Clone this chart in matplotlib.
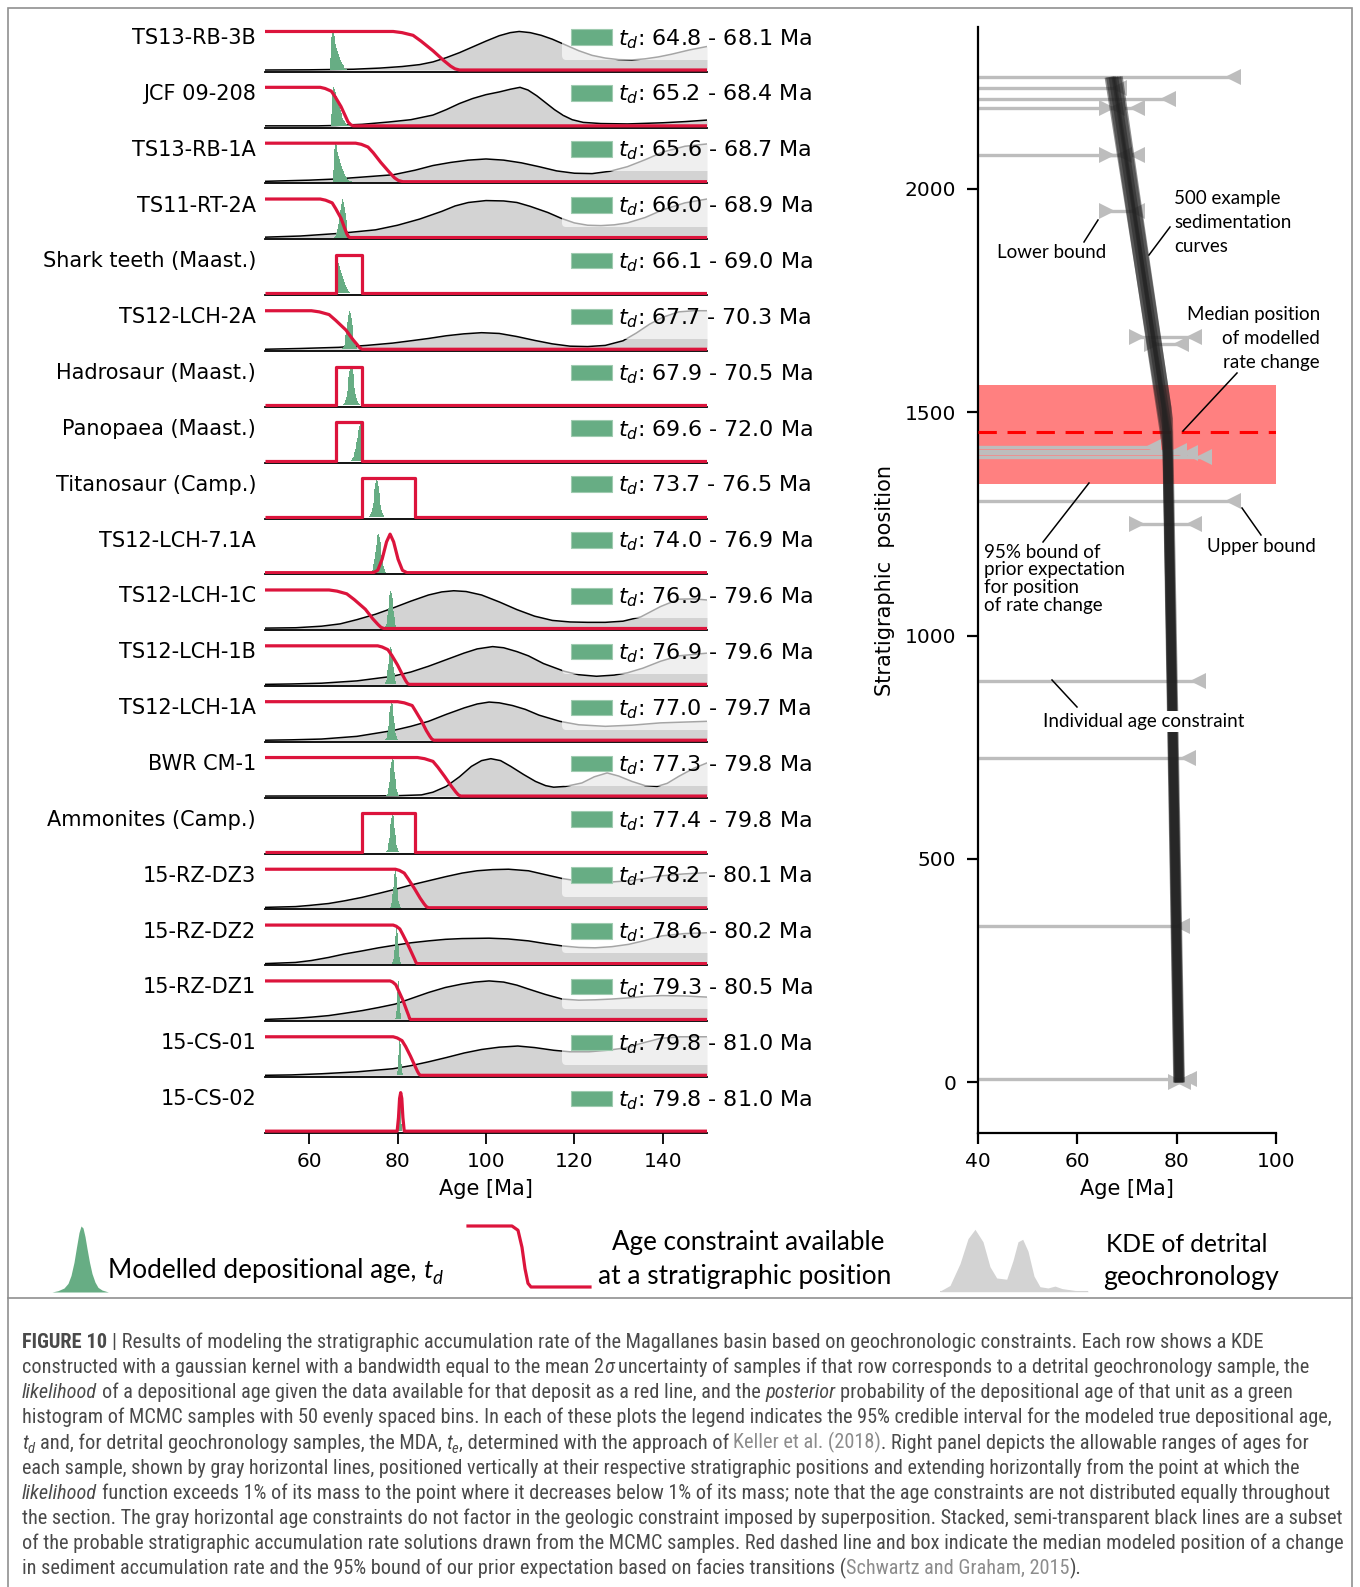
import numpy as np
import matplotlib
matplotlib.use("Agg")
import matplotlib.pyplot as plt
from matplotlib.patches import Patch, Rectangle
from matplotlib import font_manager

W, H = 1360, 1587

# ---------------------------------------------------------------- samples
sample_names = ["TS13-RB-3B", "JCF 09-208", "TS13-RB-1A", "TS11-RT-2A",
                "Shark teeth (Maast.)", "TS12-LCH-2A", "Hadrosaur (Maast.)",
                "Panopaea (Maast.)", "Titanosaur (Camp.)", "TS12-LCH-7.1A",
                "TS12-LCH-1C", "TS12-LCH-1B", "TS12-LCH-1A", "BWR CM-1",
                "Ammonites (Camp.)", "15-RZ-DZ3", "15-RZ-DZ2", "15-RZ-DZ1",
                "15-CS-01", "15-CS-02"]
sample_kind = ["detrital", "detrital", "detrital", "detrital", "box",
               "detrital", "box", "box", "box", "gauss",
               "detrital", "detrital", "detrital", "detrital", "box",
               "detrital", "detrital", "detrital", "detrital", "gauss"]

# 95% credible interval of the modelled depositional age
td_low = [64.8, 65.2, 65.6, 66.0, 66.1, 67.7, 67.9, 69.6, 73.7, 74.0,
          76.9, 76.9, 77.0, 77.3, 77.4, 78.2, 78.6, 79.3, 79.8, 79.8]
td_high = [68.1, 68.4, 68.7, 68.9, 69.0, 70.3, 70.5, 72.0, 76.5, 76.9,
           79.6, 79.6, 79.7, 79.8, 79.8, 80.1, 80.2, 80.5, 81.0, 81.0]

# extent of the posterior histograms (MCMC samples)
post_start = [64.7, 65.0, 65.3, 65.6, 66.0, 67.3, 67.5, 69.3, 73.5, 73.8,
              76.9, 76.9, 77.1, 77.3, 77.3, 78.2, 78.7, 79.4, 79.7, 79.9]
post_end = [68.8, 69.2, 69.7, 69.4, 69.7, 70.9, 71.4, 72.0, 77.0, 77.4,
            79.9, 79.9, 80.1, 80.3, 80.3, 80.7, 80.8, 80.9, 81.2, 81.1]
post_shape = ["young", "young", "young", "mid", "edge", "mid", "mid", "old",
              "mid", "mid", "mid", "mid", "mid", "mid", "mid", "mid", "mid",
              "mid", "mid", "mid"]

hist_young = [0.3, 0.85, 1.0, 0.96, 0.88, 0.78, 0.68, 0.58, 0.49, 0.41,
              0.34, 0.27, 0.21, 0.16, 0.12, 0.08, 0.05, 0.03, 0.02, 0.01]
hist_edge = [1.0, 0.95, 0.88, 0.8, 0.71, 0.62, 0.53, 0.45, 0.37, 0.3,
             0.23, 0.17, 0.12, 0.08, 0.05, 0.03, 0.02, 0.01]
hist_mid = [0.01, 0.03, 0.06, 0.12, 0.22, 0.36, 0.53, 0.72, 0.88, 0.98,
            1.0, 0.93, 0.8, 0.63, 0.45, 0.3, 0.18, 0.1, 0.05, 0.02]
hist_old = [0.01, 0.02, 0.04, 0.07, 0.11, 0.16, 0.22, 0.3, 0.39, 0.49,
            0.6, 0.71, 0.81, 0.9, 0.97, 1.0, 0.95, 0.8]

# detrital KDEs, (age, relative density)
kde_rb3b = [(50, 0), (60, 0.005), (70, 0.02), (76, 0.05), (81, 0.09), (85, 0.14),
            (88, 0.21), (91, 0.32), (94, 0.45), (97, 0.6), (100, 0.75), (103, 0.89),
            (105.5, 0.97), (107.5, 1.0), (110, 0.97), (112.5, 0.9), (115, 0.8),
            (118, 0.65), (121, 0.5), (124, 0.38), (127, 0.31), (130, 0.27),
            (133, 0.26), (136, 0.29), (139, 0.34), (142, 0.41), (146, 0.52), (150, 0.61)]
kde_jcf = [(50, 0), (62, 0), (66, 0.01), (72, 0.04), (78, 0.1), (83, 0.16), (88, 0.28),
           (91, 0.42), (94, 0.58), (97, 0.71), (100, 0.81), (103, 0.88), (105.5, 0.95),
           (107.7, 1.0), (109.5, 0.93), (111.5, 0.78), (113.5, 0.6), (115.5, 0.42),
           (117.5, 0.27), (119.5, 0.16), (122, 0.09), (126, 0.06), (132, 0.05),
           (140, 0.08), (145, 0.11), (150, 0.15)]
kde_rb1a = [(50, 0.01), (60, 0.04), (66, 0.07), (72, 0.12), (79, 0.18), (84, 0.3),
            (88, 0.42), (92, 0.5), (96, 0.56), (100, 0.59), (104, 0.56), (108, 0.49),
            (112, 0.39), (116, 0.28), (120, 0.22), (124, 0.21), (128, 0.27), (132, 0.39),
            (136, 0.57), (140, 0.77), (145, 0.92), (150, 0.98)]
kde_rt2a = [(50, 0.01), (58, 0.04), (67, 0.11), (75, 0.2), (80, 0.32), (85, 0.48),
            (90, 0.68), (93, 0.82), (96, 0.91), (100, 0.96), (104, 0.95), (107, 0.91),
            (110, 0.81), (114, 0.65), (117, 0.5), (120, 0.38), (123, 0.32), (126, 0.31),
            (129, 0.33), (132, 0.38), (136, 0.52), (140, 0.72), (145, 0.9), (150, 1.0)]
kde_lch2a = [(50, 0), (58, 0.02), (66.7, 0.05), (73, 0.1), (78.9, 0.16), (83, 0.22),
             (87, 0.28), (91, 0.35), (95, 0.4), (99, 0.43), (103, 0.41), (107, 0.33),
             (111, 0.23), (115, 0.14), (119, 0.08), (123, 0.07), (127, 0.1), (131, 0.22),
             (134, 0.42), (137, 0.65), (140, 0.83), (143.6, 0.97), (147, 1.0), (150, 1.0)]
kde_lch1c = [(50, 0.01), (57, 0.02), (62.8, 0.06), (67, 0.12), (70.8, 0.23), (75, 0.37),
             (78.9, 0.53), (83, 0.71), (87, 0.87), (90, 0.95), (92.7, 0.98), (95.5, 0.96),
             (99, 0.87), (103, 0.69), (107, 0.49), (111, 0.32), (115, 0.21), (119, 0.17),
             (123, 0.16), (127, 0.16), (131, 0.19), (135, 0.3), (139.5, 0.57),
             (143.6, 0.76), (147, 0.77), (150, 0.74)]
kde_lch1b = [(50, 0), (56, 0.01), (62.8, 0.03), (70.8, 0.09), (78.9, 0.21), (83, 0.32),
             (87, 0.47), (91, 0.64), (95, 0.81), (98, 0.92), (101.5, 0.98), (104, 0.95),
             (107, 0.85), (109.6, 0.74), (113, 0.54), (117.7, 0.34), (121, 0.25),
             (125, 0.21), (129, 0.24), (132, 0.3), (135.5, 0.42), (139.5, 0.6),
             (143.6, 0.74), (150, 0.81)]
kde_lch1a = [(50, 0), (56, 0.01), (62.8, 0.03), (70.8, 0.1), (78.9, 0.25), (83, 0.36),
             (87, 0.49), (91, 0.67), (95.1, 0.84), (98, 0.94), (100.7, 0.99), (103, 0.97),
             (106, 0.9), (108.9, 0.8), (112, 0.65), (116.7, 0.49), (121, 0.4), (127, 0.36),
             (133, 0.39), (139.5, 0.45), (150, 0.49)]
kde_bwr = [(50, 0), (75, 0.005), (80, 0.01), (85.4, 0.03), (88, 0.1), (91, 0.25),
           (94, 0.5), (96.7, 0.77), (99, 0.92), (101.1, 0.97), (103.3, 0.92), (105.6, 0.77),
           (108.5, 0.56), (111.2, 0.38), (113.5, 0.27), (115.3, 0.23), (118, 0.25),
           (121.7, 0.34), (124.5, 0.5), (127.4, 0.6), (130, 0.52), (133, 0.38), (136, 0.27),
           (138.7, 0.25), (141, 0.33), (143.6, 0.51), (147, 0.72), (150, 0.86)]
kde_dz3 = [(50, 0.01), (56.9, 0.03), (60, 0.06), (64.4, 0.11), (68, 0.18), (72, 0.27),
           (76, 0.38), (79.5, 0.48), (83, 0.59), (87, 0.7), (91, 0.81), (94.6, 0.9),
           (98, 0.96), (101.5, 0.99), (105.1, 1.0), (109.6, 0.96), (113, 0.87),
           (117.2, 0.76), (121, 0.69), (124.7, 0.66), (128.5, 0.67), (132.3, 0.7),
           (136, 0.76), (139.8, 0.83), (145, 0.88), (150, 0.91)]
kde_dz2 = [(50, 0), (56.9, 0.03), (60.5, 0.08), (64.4, 0.16), (68, 0.25), (72, 0.33),
           (75.7, 0.41), (79.5, 0.48), (83, 0.54), (87, 0.59), (90.8, 0.63), (94.6, 0.65),
           (100.7, 0.66), (105, 0.64), (109.6, 0.59), (113.4, 0.52), (117.2, 0.46),
           (121, 0.42), (124.7, 0.41), (128.5, 0.44), (132.3, 0.5), (136, 0.6),
           (139.8, 0.72), (145, 0.78), (150, 0.8)]
kde_dz1 = [(50, 0), (56.9, 0.03), (60.5, 0.06), (64.4, 0.1), (68, 0.16), (72, 0.23),
           (75.7, 0.31), (79.5, 0.4), (83, 0.54), (87, 0.7), (90.8, 0.83), (94.6, 0.92),
           (97.5, 0.97), (100.7, 1.0), (104, 0.97), (107, 0.89), (109.6, 0.79),
           (113.4, 0.65), (117.2, 0.53), (121, 0.5), (124.7, 0.51), (128.5, 0.53),
           (132.3, 0.56), (136, 0.6), (139.8, 0.62), (145, 0.61), (150, 0.58)]
kde_cs01 = [(50, 0), (56, 0.01), (62.8, 0.04), (70.8, 0.09), (78.9, 0.17), (83, 0.25),
            (87, 0.35), (91, 0.46), (95.1, 0.58), (99, 0.67), (103, 0.73), (107.2, 0.76),
            (111, 0.72), (115.3, 0.65), (119, 0.61), (123.3, 0.61), (127.5, 0.65),
            (131.5, 0.71), (135.5, 0.84), (139.5, 0.96), (144, 1.0), (150, 1.0)]

# detrital likelihoods: ages where the curve passes these levels
lik_levels = [1.0, 0.97, 0.9, 0.75, 0.5, 0.25, 0.1, 0.03, 0.0]
lik_rb3b = [79.0, 81.0, 83.5, 85.3, 88.0, 90.4, 92.0, 93.0, 94.0]
lik_jcf = [62.5, 63.6, 65.0, 65.9, 67.2, 68.2, 68.8, 69.4, 69.9]
lik_rb1a = [70.5, 71.8, 73.3, 74.5, 76.2, 78.1, 79.3, 80.2, 81.2]
lik_rt2a = [62.5, 63.7, 65.2, 66.0, 67.2, 68.0, 68.5, 68.85, 69.2]
lik_lch2a = [60.5, 62.3, 64.5, 66.0, 68.3, 69.9, 71.0, 71.5, 72.0]
lik_lch1c = [64.5, 66.3, 68.5, 70.2, 72.7, 74.4, 75.6, 76.25, 76.9]
lik_lch1b = [75.5, 76.5, 77.8, 78.7, 80.0, 81.1, 81.8, 82.2, 82.6]
lik_lch1a = [80.0, 81.5, 83.3, 84.1, 85.4, 86.5, 87.3, 87.75, 88.2]
lik_bwr = [84.5, 86.1, 88.0, 89.1, 90.7, 92.2, 93.2, 93.75, 94.3]
lik_dz3 = [79.5, 80.4, 81.5, 82.4, 83.8, 85.1, 86.0, 86.5, 87.0]
lik_dz2 = [79.0, 79.7, 80.5, 81.2, 82.3, 83.3, 83.9, 84.15, 84.4]
lik_dz1 = [78.3, 78.9, 79.6, 80.2, 81.2, 82.0, 82.5, 82.7, 82.9]
lik_cs01 = [79.0, 79.9, 81.0, 81.8, 82.9, 83.9, 84.5, 84.85, 85.2]

# biostratigraphic (uniform) and dated-ash (gaussian) likelihoods
box_maast = (66.0, 72.0)
box_camp = (72.0, 84.0)
gauss_71a_age = [50, 74.5, 75.5, 76.5, 77.5, 78.3, 79.1, 80.1, 81.1, 82.1, 150]
gauss_71a_val = [0, 0, 0.06, 0.35, 0.8, 1.0, 0.8, 0.35, 0.06, 0, 0]
gauss_cs02_age = [50, 79.9, 80.2, 80.45, 80.7, 80.95, 81.2, 81.5, 150]
gauss_cs02_val = [0, 0, 0.35, 0.85, 1.0, 0.85, 0.35, 0, 0]

kde_rows = {0: kde_rb3b, 1: kde_jcf, 2: kde_rb1a, 3: kde_rt2a, 5: kde_lch2a,
            10: kde_lch1c, 11: kde_lch1b, 12: kde_lch1a, 13: kde_bwr,
            15: kde_dz3, 16: kde_dz2, 17: kde_dz1, 18: kde_cs01}
lik_rows = {0: lik_rb3b, 1: lik_jcf, 2: lik_rb1a, 3: lik_rt2a, 5: lik_lch2a,
            10: lik_lch1c, 11: lik_lch1b, 12: lik_lch1a, 13: lik_bwr,
            15: lik_dz3, 16: lik_dz2, 17: lik_dz1, 18: lik_cs01}
box_rows = {4: box_maast, 6: box_maast, 7: box_maast, 8: box_camp, 14: box_camp}
gauss_rows = {9: (gauss_71a_age, gauss_71a_val), 19: (gauss_cs02_age, gauss_cs02_val)}
hist_shapes = {"young": hist_young, "edge": hist_edge, "mid": hist_mid, "old": hist_old}

# ---------------------------------------------------------------- right panel
# stratigraphic position, 1% lower bound (nan = far below axis), 1% upper bound
constraint_pos = [2250, 2226, 2201, 2181, 2181, 2075, 2075, 1950, 1667, 1653,
                  1421, 1414, 1408, 1400, 1302, 1250, 899, 725, 350, 8, 0]
constraint_lo = [np.nan, np.nan, np.nan, np.nan, 66.0, np.nan, 66.0, 66.0, 72.0, 75.0,
                 np.nan, np.nan, np.nan, np.nan, np.nan, 72.0, np.nan, np.nan, np.nan,
                 np.nan, 79.9]
constraint_hi = [91.4, 68.5, 78.3, 68.0, 72.0, 69.5, 72.0, 72.0, 83.6, 80.9,
                 75.3, 80.5, 82.8, 85.5, 91.4, 83.6, 84.4, 82.4, 81.1, 82.5, 81.3]

# a handful of accumulation-rate solutions: age at base, at the rate change, at top
curve_kink_pos = [1455, 1410, 1510, 1435, 1485]
curve_base_age = [80.5, 80.4, 80.6, 80.3, 80.7]
curve_kink_age = [78.2, 78.2, 78.0, 78.1, 78.3]
curve_top_age = [67.3, 66.8, 67.9, 66.5, 68.2]
section_top = 2250

prior_low, prior_high = 1340, 1560
median_change = 1455

# small glyphs of the key below the panels
glyph_hist_x = [0, 6, 12, 16, 19, 22, 24.5, 27, 29, 31, 33, 35, 37.5, 40, 43, 46,
                50, 56.4]
glyph_hist_y = [0.0, 0.02, 0.06, 0.13, 0.25, 0.45, 0.68, 0.9, 1.0, 0.97, 0.84,
                0.66, 0.45, 0.28, 0.15, 0.07, 0.03, 0.0]
glyph_step_x = [0, 44, 50, 54, 57, 60, 63, 122]
glyph_step_y = [1, 1, 0.93, 0.65, 0.3, 0.06, 0, 0]
glyph_kde_x = [0, 10, 20, 28, 35, 43, 50, 56.7, 66.7, 73, 78, 82.7, 88, 94, 100,
               108, 115, 122, 135, 148]
glyph_kde_y = [0.01, 0.1, 0.45, 0.85, 1.0, 0.8, 0.4, 0.22, 0.2, 0.5, 0.8, 0.84,
               0.65, 0.25, 0.08, 0.06, 0.09, 0.05, 0.02, 0.01]

# ---------------------------------------------------------------- styling
GREEN = "#67ad84"
RED = "#dc143c"
KDE_GRAY = "#d3d3d3"
LINE_GRAY = "#bdbdbd"

available = {f.name for f in font_manager.fontManager.ttflist}


def pick_font(candidates):
    for c in candidates:
        if c in available:
            return c
    return "DejaVu Sans"


art_font = pick_font(["Lato", "Open Sans", "Noto Sans"])
cap_font = pick_font(["Roboto Condensed", "Liberation Sans Narrow",
                      "Open Sans Condensed", "Liberation Sans", "Roboto"])

plt.rcParams["font.family"] = ["DejaVu Sans"]
plt.rcParams["mathtext.fontset"] = "dejavusans"

fig = plt.figure(figsize=(W / 100, H / 100), dpi=100)


def add_px_axes(x0, y0, x1, y1):
    return fig.add_axes([x0 / W, 1 - y1 / H, (x1 - x0) / W, (y1 - y0) / H])


# ---------------------------------------------------------------- left rows
first_base, row_step = 70.0, 55.85
n_rows = len(sample_names)
for i, name in enumerate(sample_names):
    base = first_base + i * row_step
    ax = add_px_axes(265, base - 44.3, 707, base + 1.7)
    ax.set_xlim(50, 150)
    ax.set_ylim(-0.044, 1.15)
    for side in ["top", "right", "left"]:
        ax.spines[side].set_visible(False)
    ax.spines["bottom"].set_linewidth(1.3)
    ax.set_yticks([])
    ax.patch.set_alpha(0)

    if i in kde_rows:
        ages, dens = zip(*kde_rows[i])
        ax.fill_between(ages, dens, color=KDE_GRAY, lw=0, zorder=1)
        ax.plot(ages, dens, color="black", lw=1.1, zorder=2)

    heights = hist_shapes[post_shape[i]]
    edges = np.linspace(post_start[i], post_end[i], len(heights) + 1)
    ax.stairs(heights, edges, fill=True, color=GREEN, zorder=3)

    if sample_kind[i] == "detrital":
        lx = [50] + lik_rows[i] + [150]
        ly = [1.0] + lik_levels + [0.0]
    elif sample_kind[i] == "box":
        a, b = box_rows[i]
        lx = [50, a, a, b, b, 150]
        ly = [0, 0, 1, 1, 0, 0]
    else:
        lx, ly = gauss_rows[i]
    ax.plot(lx, ly, color=RED, lw=2.3, zorder=4, solid_joinstyle="round",
            solid_capstyle="butt")

    leg = ax.legend(handles=[Patch(facecolor=GREEN, edgecolor="#9fcbb0", lw=0.8)],
                    labels=[f"$t_d$: {td_low[i]:.1f} - {td_high[i]:.1f} Ma"],
                    loc="lower left", bbox_to_anchor=(0.672, 0.265), borderaxespad=0,
                    fontsize=16, handlelength=1.85, handleheight=0.7,
                    handletextpad=0.25, borderpad=0.4, framealpha=0.65)
    leg.get_frame().set_edgecolor("none")
    leg.set_zorder(6)

    fig.text(256 / W, 1 - (base - 32) / H, name, ha="right", va="center", fontsize=15)

    if i == n_rows - 1:
        ax.set_xticks([60, 80, 100, 120, 140])
        ax.tick_params(axis="x", length=8, width=1.3, labelsize=14.5, pad=6)
    else:
        ax.set_xticks([])

# ---------------------------------------------------------------- right panel
axr = add_px_axes(977.7, 26.7, 1276, 1132.7)
axr.set_xlim(40, 100)
axr.set_ylim(-112.5, 2362.5)
for side in ["top", "right"]:
    axr.spines[side].set_visible(False)
for side in ["left", "bottom"]:
    axr.spines[side].set_linewidth(1.6)
axr.set_xticks([40, 60, 80, 100])
axr.set_yticks([0, 500, 1000, 1500, 2000])
axr.tick_params(axis="x", length=8, width=1.6, labelsize=14.5, pad=6)
axr.tick_params(axis="y", length=8, width=1.6, labelsize=14.5, pad=7.5)

axr.axhspan(prior_low, prior_high, color="#ff8080", lw=0, zorder=1)
axr.axhline(median_change, color="red", lw=2.2, ls=(0, (6, 3.5)), zorder=3)

for pos, lo, hi in zip(constraint_pos, constraint_lo, constraint_hi):
    start = 0 if np.isnan(lo) else lo
    axr.plot([start, hi], [pos, pos], color=LINE_GRAY, lw=2.4, zorder=2,
             solid_capstyle="butt")
    axr.plot(hi, pos, marker="<", ms=12, color=LINE_GRAY, mew=0, zorder=2)
    if not np.isnan(lo):
        axr.plot(lo, pos, marker=">", ms=12, color=LINE_GRAY, mew=0, zorder=2)

for kp, a0, a1, a2 in zip(curve_kink_pos, curve_base_age, curve_kink_age, curve_top_age):
    axr.plot([a0, a1, a2], [0, kp, section_top], color="#222222", lw=7, alpha=0.5,
             zorder=4, solid_capstyle="butt", solid_joinstyle="round")

# ---------------------------------------------------------------- overlay (annotations, key, caption)
ov = fig.add_axes([0, 0, 1, 1])
ov.set_xlim(0, W)
ov.set_ylim(H, 0)
ov.axis("off")
ov.patch.set_visible(False)

ov.text(486, 1189, "Age [Ma]", ha="center", va="center", fontsize=15)
ov.text(1127, 1189, "Age [Ma]", ha="center", va="center", fontsize=15)
ov.text(885, 580, "Stratigraphic  position", rotation=90, ha="center",
        va="center", fontsize=15)

ann = dict(family=art_font, fontsize=13.5, va="baseline")
ov.text(997, 258, "Lower bound", ha="left", **ann)
for k, s in enumerate(["500 example", "sedimentation", "curves"]):
    ov.text(1174, 204 + 24 * k, s, ha="left", **ann)
for k, s in enumerate(["Median position", "of modelled", "rate change"]):
    ov.text(1320, 320 + 24 * k, s, ha="right", **ann)
for k, s in enumerate(["95% bound of", "prior expectation", "for position",
                       "of rate change"]):
    ov.text(984, 558 + 17.5 * k, s, ha="left", **ann)
ov.text(1207, 552, "Upper bound", ha="left", **ann)
ov.text(1043, 727, "Individual age constraint", ha="left",
        bbox=dict(boxstyle="square,pad=0.12", fc="white", ec="none"), **ann)

leaders = [((1084, 242), (1098, 220)), ((1149, 255), (1170, 227)),
           ((1183, 431), (1237, 373)), ((1043, 542), (1089, 483)),
           ((1261, 535), (1242, 508)), ((1077, 707), (1052, 680))]
for (x0, y0), (x1, y1) in leaders:
    ov.plot([x0, x1], [y0, y1], color="black", lw=1.1)

# key glyphs
gh = add_px_axes(52, 1226, 108.4, 1292)
gh.fill_between(glyph_hist_x, glyph_hist_y, color=GREEN, lw=0)
gh.set_xlim(0, 56.4)
gh.set_ylim(0, 1.0)
gh.axis("off")

gs = add_px_axes(468, 1226, 590, 1287)
gs.plot(glyph_step_x, glyph_step_y, color=RED, lw=2.3, clip_on=False,
        solid_joinstyle="round")
gs.set_xlim(0, 122)
gs.set_ylim(0, 1)
gs.axis("off")

gk = add_px_axes(940, 1229.3, 1088, 1291.7)
gk.fill_between(glyph_kde_x, glyph_kde_y, color=KDE_GRAY, lw=0)
gk.plot(glyph_kde_x, [0] * len(glyph_kde_x), color=KDE_GRAY, lw=1.5)
gk.set_xlim(0, 148)
gk.set_ylim(0, 1)
gk.axis("off")

renderer = fig.canvas.get_renderer()
RUN_STYLES = {"n": {}, "b": {"weight": "bold"}, "i": {"style": "italic"},
              "s": {"style": "italic"}, "l": {}}


def advance(s, **kw):
    """Pen advance of a string, spaces included."""
    a = ov.text(0, 0, "|" + s + "|", **kw)
    b = ov.text(0, 0, "||", **kw)
    w = a.get_window_extent(renderer).width - b.get_window_extent(renderer).width
    a.remove()
    b.remove()
    return w


def place_runs(runs, x0, baseline, size, family, color, link_color):
    artists = []
    x = x0
    for t, st in runs:
        sz = size * 0.72 if st == "s" else size
        kw = dict(fontsize=sz, family=family, **RUN_STYLES[st])
        core = t.strip(" ")
        lead = len(t) - len(t.lstrip(" "))
        trail = len(t) - len(t.rstrip(" "))
        if lead:
            x += advance(" " * lead, **kw)
        dy = 0.3 * sz * 100 / 72 if st == "s" else 0
        artists.append(ov.text(x, baseline + dy, core, ha="left", va="baseline",
                               color=link_color if st == "l" else color, **kw))
        x += advance(core, **kw)
        if trail:
            x += advance(" " * trail, **kw)
    return artists


def draw_runs(runs, x0, baseline, size, family, color, link_color="#8c8c8c",
              right=None):
    arts = place_runs(runs, x0, baseline, size, family, color, link_color)
    if right is None:
        return
    for _ in range(3):
        x1 = arts[-1].get_window_extent(renderer).x1
        k = (right - x0) / (x1 - x0)
        if abs(k - 1) < 0.002:
            break
        for a in arts:
            a.remove()
        size *= k
        arts = place_runs(runs, x0, baseline, size, family, color, link_color)


def fit_centered(s, cx, baseline, width, family, size=16):
    t = ov.text(cx, baseline, s, ha="center", va="baseline", family=family, fontsize=size)
    w = t.get_window_extent(renderer).width
    t.set_fontsize(size * width / w)


draw_runs([("Modelled depositional age, ", "n"), ("t", "i"), ("d", "s")],
          108.4, 1278, 16.5, [art_font, "DejaVu Sans"], "black", right=442)
fit_centered("Age constraint available", 748, 1250, 273, art_font)
fit_centered("at a stratigraphic position", 745, 1284, 293, art_font)
fit_centered("KDE of detrital", 1187, 1251.7, 162, art_font)
fit_centered("geochronology", 1191, 1285, 175, art_font)

# frame
ov.add_patch(Rectangle((8, 8), 1344, 1290, fill=False, ec="#909090", lw=1.2))
ov.plot([8, 8], [1298, H], color="#909090", lw=1.2)
ov.plot([1352, 1352], [1298, H], color="#909090", lw=1.2)

# caption
caption_lines = [
    [("FIGURE 10 ", "b"), ("| Results of modeling the stratigraphic accumulation rate of the "
                           "Magallanes basin based on geochronologic constraints. Each row shows a KDE", "n")],
    [("constructed with a gaussian kernel with a bandwidth equal to the mean 2", "n"), ("σ", "i"),
     (" uncertainty of samples if that row corresponds to a detrital geochronology sample, the", "n")],
    [("likelihood", "i"), (" of a depositional age given the data available for that deposit as a "
                           "red line, and the ", "n"), ("posterior", "i"),
     (" probability of the depositional age of that unit as a green", "n")],
    [("histogram of MCMC samples with 50 evenly spaced bins. In each of these plots the legend "
      "indicates the 95% credible interval for the modeled true depositional age,", "n")],
    [("t", "i"), ("d", "s"), (" and, for detrital geochronology samples, the MDA, ", "n"), ("t", "i"),
     ("e", "s"), (", determined with the approach of ", "n"), ("Keller et al. (2018)", "l"),
     (". Right panel depicts the allowable ranges of ages for", "n")],
    [("each sample, shown by gray horizontal lines, positioned vertically at their respective "
      "stratigraphic positions and extending horizontally from the point at which the", "n")],
    [("likelihood", "i"), (" function exceeds 1% of its mass to the point where it decreases below "
                           "1% of its mass; note that the age constraints are not distributed equally throughout", "n")],
    [("the section. The gray horizontal age constraints do not factor in the geologic constraint "
      "imposed by superposition. Stacked, semi-transparent black lines are a subset", "n")],
    [("of the probable stratigraphic accumulation rate solutions drawn from the MCMC samples. Red "
      "dashed line and box indicate the median modeled position of a change", "n")],
    [("in sediment accumulation rate and the 95% bound of our prior expectation based on facies "
      "transitions (", "n"), ("Schwartz and Graham, 2015", "l"), (").", "n")],
]
caption_right = [1266, 1311, 1286, 1333, 1308, 1299, 1331, 1335, 1336, 1084]
for k, (runs, right) in enumerate(zip(caption_lines, caption_right)):
    draw_runs(runs, 22, 1348 + 25.15 * k, 13, [cap_font, "DejaVu Sans"], "#4a4a4a",
              right=right)

fig.savefig("out.png", dpi=100)
